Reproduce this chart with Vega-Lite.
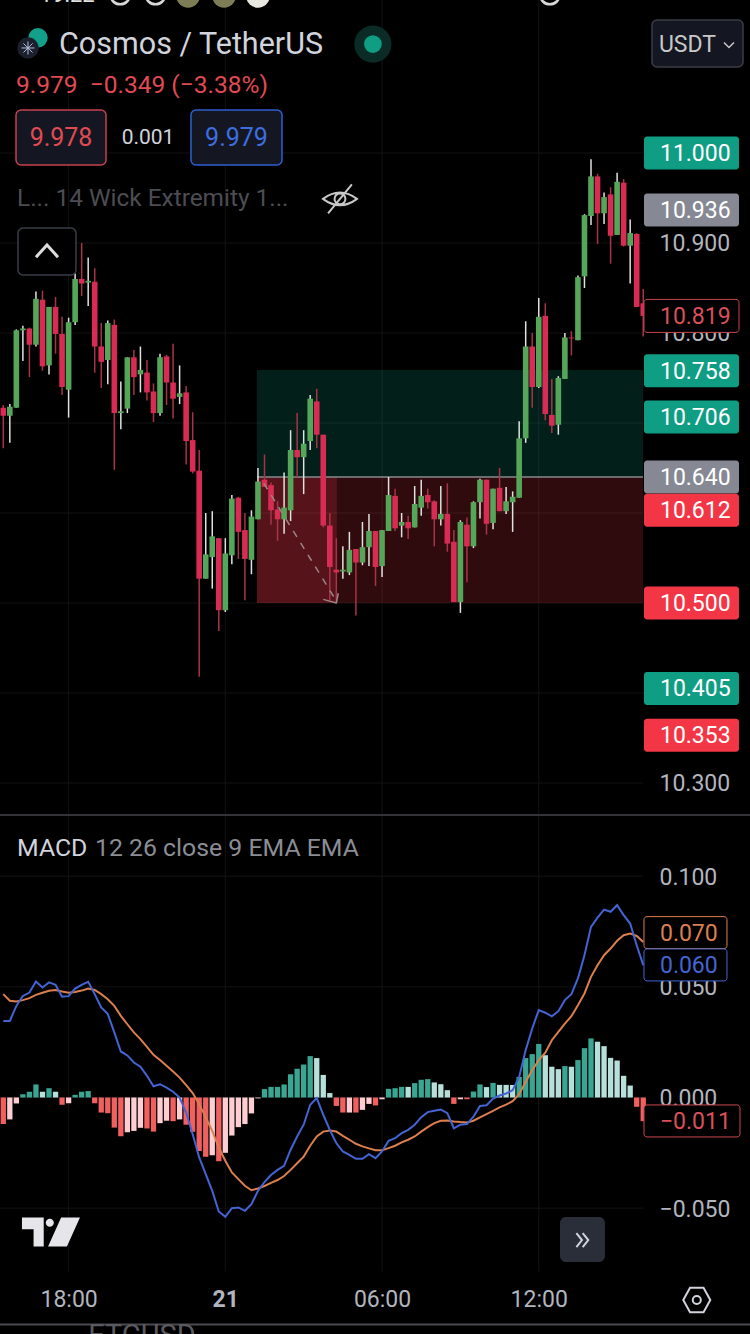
{
  "$schema": "https://vega.github.io/schema/vega-lite/v6.json",
  "width": 750,
  "height": 1334,
  "autosize": {"type": "none"},
  "padding": 0,
  "background": "#000000",
  "config": {
    "view": {"stroke": null},
    "text": {"font": "Roboto"},
    "axis": {"labelFont": "Roboto", "labelFontSize": 23, "labelColor": "#b2b5be", "domain": false, "ticks": false, "grid": false, "title": null, "labelOverlap": false, "labelBound": false, "labelFlush": false}
  },
  "datasets": {
    "candles": [
      {"bar":0,"open":10.717,"high":10.720,"low":10.672,"close":10.708},
      {"bar":1,"open":10.708,"high":10.721,"low":10.678,"close":10.718},
      {"bar":2,"open":10.717,"high":10.804,"low":10.717,"close":10.803},
      {"bar":3,"open":10.803,"high":10.808,"low":10.769,"close":10.805},
      {"bar":4,"open":10.805,"high":10.806,"low":10.751,"close":10.787},
      {"bar":5,"open":10.787,"high":10.846,"low":10.785,"close":10.838},
      {"bar":6,"open":10.837,"high":10.847,"low":10.758,"close":10.763},
      {"bar":7,"open":10.764,"high":10.829,"low":10.754,"close":10.829},
      {"bar":8,"open":10.829,"high":10.840,"low":10.777,"close":10.799},
      {"bar":9,"open":10.799,"high":10.818,"low":10.731,"close":10.740},
      {"bar":10,"open":10.737,"high":10.817,"low":10.706,"close":10.812},
      {"bar":11,"open":10.812,"high":10.866,"low":10.809,"close":10.860},
      {"bar":12,"open":10.860,"high":10.900,"low":10.841,"close":10.855},
      {"bar":13,"open":10.856,"high":10.884,"low":10.830,"close":10.858},
      {"bar":14,"open":10.857,"high":10.872,"low":10.756,"close":10.785},
      {"bar":15,"open":10.785,"high":10.811,"low":10.739,"close":10.768},
      {"bar":16,"open":10.770,"high":10.814,"low":10.743,"close":10.811},
      {"bar":17,"open":10.809,"high":10.815,"low":10.648,"close":10.711},
      {"bar":18,"open":10.711,"high":10.746,"low":10.693,"close":10.713},
      {"bar":19,"open":10.716,"high":10.773,"low":10.711,"close":10.773},
      {"bar":20,"open":10.773,"high":10.781,"low":10.731,"close":10.751},
      {"bar":21,"open":10.754,"high":10.785,"low":10.734,"close":10.759},
      {"bar":22,"open":10.756,"high":10.770,"low":10.725,"close":10.734},
      {"bar":23,"open":10.735,"high":10.744,"low":10.701,"close":10.711},
      {"bar":24,"open":10.711,"high":10.777,"low":10.708,"close":10.773},
      {"bar":25,"open":10.774,"high":10.776,"low":10.720,"close":10.745},
      {"bar":26,"open":10.745,"high":10.788,"low":10.705,"close":10.727},
      {"bar":27,"open":10.729,"high":10.764,"low":10.721,"close":10.733},
      {"bar":28,"open":10.734,"high":10.741,"low":10.654,"close":10.680},
      {"bar":29,"open":10.681,"high":10.712,"low":10.644,"close":10.646},
      {"bar":30,"open":10.647,"high":10.670,"low":10.418,"close":10.527},
      {"bar":31,"open":10.527,"high":10.600,"low":10.527,"close":10.554},
      {"bar":32,"open":10.551,"high":10.602,"low":10.516,"close":10.574},
      {"bar":33,"open":10.572,"high":10.572,"low":10.469,"close":10.492},
      {"bar":34,"open":10.492,"high":10.572,"low":10.490,"close":10.555},
      {"bar":35,"open":10.553,"high":10.620,"low":10.543,"close":10.616},
      {"bar":36,"open":10.617,"high":10.618,"low":10.549,"close":10.579},
      {"bar":37,"open":10.581,"high":10.600,"low":10.503,"close":10.549},
      {"bar":38,"open":10.548,"high":10.603,"low":10.532,"close":10.596},
      {"bar":39,"open":10.593,"high":10.650,"low":10.593,"close":10.635},
      {"bar":40,"open":10.637,"high":10.665,"low":10.629,"close":10.629},
      {"bar":41,"open":10.631,"high":10.634,"low":10.587,"close":10.603},
      {"bar":42,"open":10.604,"high":10.613,"low":10.569,"close":10.593},
      {"bar":43,"open":10.593,"high":10.645,"low":10.577,"close":10.606},
      {"bar":44,"open":10.603,"high":10.692,"low":10.591,"close":10.670},
      {"bar":45,"open":10.670,"high":10.711,"low":10.640,"close":10.662},
      {"bar":46,"open":10.662,"high":10.692,"low":10.621,"close":10.677},
      {"bar":47,"open":10.680,"high":10.731,"low":10.670,"close":10.727},
      {"bar":48,"open":10.724,"high":10.738,"low":10.672,"close":10.687},
      {"bar":49,"open":10.687,"high":10.687,"low":10.584,"close":10.586},
      {"bar":50,"open":10.586,"high":10.600,"low":10.503,"close":10.540},
      {"bar":51,"open":10.537,"high":10.572,"low":10.499,"close":10.534},
      {"bar":52,"open":10.535,"high":10.563,"low":10.527,"close":10.537},
      {"bar":53,"open":10.534,"high":10.579,"low":10.531,"close":10.559},
      {"bar":54,"open":10.560,"high":10.560,"low":10.486,"close":10.545},
      {"bar":55,"open":10.545,"high":10.590,"low":10.542,"close":10.562},
      {"bar":56,"open":10.562,"high":10.599,"low":10.541,"close":10.580},
      {"bar":57,"open":10.580,"high":10.580,"low":10.519,"close":10.540},
      {"bar":58,"open":10.541,"high":10.581,"low":10.529,"close":10.581},
      {"bar":59,"open":10.580,"high":10.640,"low":10.580,"close":10.620},
      {"bar":60,"open":10.619,"high":10.627,"low":10.580,"close":10.583},
      {"bar":61,"open":10.586,"high":10.600,"low":10.573,"close":10.590},
      {"bar":62,"open":10.590,"high":10.597,"low":10.571,"close":10.583},
      {"bar":63,"open":10.584,"high":10.630,"low":10.584,"close":10.610},
      {"bar":64,"open":10.606,"high":10.637,"low":10.597,"close":10.619},
      {"bar":65,"open":10.620,"high":10.627,"low":10.605,"close":10.612},
      {"bar":66,"open":10.613,"high":10.614,"low":10.563,"close":10.593},
      {"bar":67,"open":10.593,"high":10.630,"low":10.586,"close":10.599},
      {"bar":68,"open":10.599,"high":10.633,"low":10.557,"close":10.566},
      {"bar":69,"open":10.568,"high":10.581,"low":10.501,"close":10.501},
      {"bar":70,"open":10.501,"high":10.592,"low":10.489,"close":10.590},
      {"bar":71,"open":10.587,"high":10.595,"low":10.523,"close":10.563},
      {"bar":72,"open":10.563,"high":10.613,"low":10.561,"close":10.612},
      {"bar":73,"open":10.612,"high":10.638,"low":10.594,"close":10.637},
      {"bar":74,"open":10.637,"high":10.637,"low":10.576,"close":10.588},
      {"bar":75,"open":10.589,"high":10.627,"low":10.582,"close":10.627},
      {"bar":76,"open":10.628,"high":10.650,"low":10.602,"close":10.602},
      {"bar":77,"open":10.602,"high":10.629,"low":10.599,"close":10.613},
      {"bar":78,"open":10.612,"high":10.624,"low":10.579,"close":10.618},
      {"bar":79,"open":10.617,"high":10.702,"low":10.617,"close":10.683},
      {"bar":80,"open":10.683,"high":10.813,"low":10.678,"close":10.785},
      {"bar":81,"open":10.785,"high":10.800,"low":10.717,"close":10.740},
      {"bar":82,"open":10.740,"high":10.839,"low":10.739,"close":10.818},
      {"bar":83,"open":10.819,"high":10.833,"low":10.703,"close":10.710},
      {"bar":84,"open":10.709,"high":10.749,"low":10.689,"close":10.697},
      {"bar":85,"open":10.698,"high":10.752,"low":10.687,"close":10.750},
      {"bar":86,"open":10.749,"high":10.800,"low":10.749,"close":10.795},
      {"bar":87,"open":10.795,"high":10.802,"low":10.775,"close":10.794},
      {"bar":88,"open":10.792,"high":10.864,"low":10.792,"close":10.862},
      {"bar":89,"open":10.863,"high":10.932,"low":10.850,"close":10.931},
      {"bar":90,"open":10.930,"high":10.993,"low":10.920,"close":10.974},
      {"bar":91,"open":10.974,"high":10.977,"low":10.899,"close":10.933},
      {"bar":92,"open":10.933,"high":10.956,"low":10.921,"close":10.951},
      {"bar":93,"open":10.954,"high":10.962,"low":10.877,"close":10.908},
      {"bar":94,"open":10.909,"high":10.978,"low":10.909,"close":10.968},
      {"bar":95,"open":10.967,"high":10.971,"low":10.896,"close":10.897},
      {"bar":96,"open":10.897,"high":10.926,"low":10.855,"close":10.911},
      {"bar":97,"open":10.910,"high":10.911,"low":10.829,"close":10.829},
      {"bar":98,"open":10.833,"high":10.849,"low":10.796,"close":10.819}
    ],
    "macd": [
      {"bar":0,"hist":-0.0120,"state":"fall_low","macd":0.0346,"signal":0.0467},
      {"bar":1,"hist":-0.0099,"state":"rise_low","macd":0.0346,"signal":0.0437},
      {"bar":2,"hist":-0.0027,"state":"rise_low","macd":0.0414,"signal":0.0434},
      {"bar":3,"hist":0.0015,"state":"rise_high","macd":0.0459,"signal":0.0440},
      {"bar":4,"hist":0.0026,"state":"rise_high","macd":0.0474,"signal":0.0449},
      {"bar":5,"hist":0.0059,"state":"rise_high","macd":0.0524,"signal":0.0464},
      {"bar":6,"hist":0.0026,"state":"fall_high","macd":0.0497,"signal":0.0473},
      {"bar":7,"hist":0.0042,"state":"rise_high","macd":0.0520,"signal":0.0482},
      {"bar":8,"hist":0.0026,"state":"fall_high","macd":0.0509,"signal":0.0486},
      {"bar":9,"hist":-0.0033,"state":"fall_low","macd":0.0455,"signal":0.0479},
      {"bar":10,"hist":-0.0026,"state":"rise_low","macd":0.0458,"signal":0.0473},
      {"bar":11,"hist":0.0012,"state":"rise_high","macd":0.0492,"signal":0.0477},
      {"bar":12,"hist":0.0026,"state":"rise_high","macd":0.0509,"signal":0.0483},
      {"bar":13,"hist":0.0029,"state":"rise_high","macd":0.0523,"signal":0.0492},
      {"bar":14,"hist":-0.0026,"state":"fall_low","macd":0.0467,"signal":0.0486},
      {"bar":15,"hist":-0.0068,"state":"fall_low","macd":0.0407,"signal":0.0467},
      {"bar":16,"hist":-0.0071,"state":"fall_low","macd":0.0377,"signal":0.0444},
      {"bar":17,"hist":-0.0136,"state":"fall_low","macd":0.0294,"signal":0.0414},
      {"bar":18,"hist":-0.0175,"state":"fall_low","macd":0.0208,"signal":0.0369},
      {"bar":19,"hist":-0.0157,"state":"rise_low","macd":0.0190,"signal":0.0331},
      {"bar":20,"hist":-0.0151,"state":"rise_low","macd":0.0158,"signal":0.0294},
      {"bar":21,"hist":-0.0137,"state":"rise_low","macd":0.0139,"signal":0.0264},
      {"bar":22,"hist":-0.0140,"state":"fall_low","macd":0.0098,"signal":0.0229},
      {"bar":23,"hist":-0.0154,"state":"fall_low","macd":0.0051,"signal":0.0193},
      {"bar":24,"hist":-0.0116,"state":"rise_low","macd":0.0060,"signal":0.0169},
      {"bar":25,"hist":-0.0105,"state":"rise_low","macd":0.0045,"signal":0.0143},
      {"bar":26,"hist":-0.0107,"state":"fall_low","macd":0.0026,"signal":0.0117},
      {"bar":27,"hist":-0.0099,"state":"rise_low","macd":0.0000,"signal":0.0090},
      {"bar":28,"hist":-0.0123,"state":"fall_low","macd":-0.0068,"signal":0.0056},
      {"bar":29,"hist":-0.0155,"state":"fall_low","macd":-0.0166,"signal":0.0020},
      {"bar":30,"hist":-0.0242,"state":"fall_low","macd":-0.0271,"signal":-0.0030},
      {"bar":31,"hist":-0.0268,"state":"fall_low","macd":-0.0346,"signal":-0.0090},
      {"bar":32,"hist":-0.0261,"state":"rise_low","macd":-0.0422,"signal":-0.0151},
      {"bar":33,"hist":-0.0288,"state":"fall_low","macd":-0.0515,"signal":-0.0226},
      {"bar":34,"hist":-0.0250,"state":"rise_low","macd":-0.0539,"signal":-0.0286},
      {"bar":35,"hist":-0.0172,"state":"rise_low","macd":-0.0500,"signal":-0.0339},
      {"bar":36,"hist":-0.0134,"state":"rise_low","macd":-0.0497,"signal":-0.0369},
      {"bar":37,"hist":-0.0120,"state":"rise_low","macd":-0.0512,"signal":-0.0399},
      {"bar":38,"hist":-0.0072,"state":"rise_low","macd":-0.0482,"signal":-0.0419},
      {"bar":39,"hist":-0.0004,"state":"rise_low","macd":-0.0422,"signal":-0.0411},
      {"bar":40,"hist":0.0038,"state":"rise_high","macd":-0.0382,"signal":-0.0400},
      {"bar":41,"hist":0.0048,"state":"rise_high","macd":-0.0350,"signal":-0.0386},
      {"bar":42,"hist":0.0048,"state":"rise_high","macd":-0.0327,"signal":-0.0373},
      {"bar":43,"hist":0.0059,"state":"rise_high","macd":-0.0309,"signal":-0.0355},
      {"bar":44,"hist":0.0105,"state":"rise_high","macd":-0.0236,"signal":-0.0327},
      {"bar":45,"hist":0.0130,"state":"rise_high","macd":-0.0176,"signal":-0.0297},
      {"bar":46,"hist":0.0149,"state":"rise_high","macd":-0.0123,"signal":-0.0267},
      {"bar":47,"hist":0.0187,"state":"rise_high","macd":-0.0033,"signal":-0.0218},
      {"bar":48,"hist":0.0178,"state":"fall_high","macd":-0.0003,"signal":-0.0176},
      {"bar":49,"hist":0.0102,"state":"fall_high","macd":-0.0078,"signal":-0.0154},
      {"bar":50,"hist":0.0020,"state":"fall_high","macd":-0.0146,"signal":-0.0149},
      {"bar":51,"hist":-0.0038,"state":"fall_low","macd":-0.0206,"signal":-0.0154},
      {"bar":52,"hist":-0.0068,"state":"fall_low","macd":-0.0244,"signal":-0.0173},
      {"bar":53,"hist":-0.0068,"state":"rise_low","macd":-0.0259,"signal":-0.0191},
      {"bar":54,"hist":-0.0068,"state":"fall_low","macd":-0.0277,"signal":-0.0209},
      {"bar":55,"hist":-0.0056,"state":"rise_low","macd":-0.0277,"signal":-0.0221},
      {"bar":56,"hist":-0.0029,"state":"rise_low","macd":-0.0256,"signal":-0.0230},
      {"bar":57,"hist":-0.0036,"state":"fall_low","macd":-0.0274,"signal":-0.0238},
      {"bar":58,"hist":-0.0008,"state":"rise_low","macd":-0.0244,"signal":-0.0238},
      {"bar":59,"hist":0.0039,"state":"rise_high","macd":-0.0196,"signal":-0.0229},
      {"bar":60,"hist":0.0042,"state":"rise_high","macd":-0.0184,"signal":-0.0218},
      {"bar":61,"hist":0.0048,"state":"rise_high","macd":-0.0161,"signal":-0.0203},
      {"bar":62,"hist":0.0048,"state":"fall_high","macd":-0.0146,"signal":-0.0191},
      {"bar":63,"hist":0.0065,"state":"rise_high","macd":-0.0123,"signal":-0.0176},
      {"bar":64,"hist":0.0080,"state":"rise_high","macd":-0.0089,"signal":-0.0154},
      {"bar":65,"hist":0.0083,"state":"rise_high","macd":-0.0066,"signal":-0.0134},
      {"bar":66,"hist":0.0068,"state":"fall_high","macd":-0.0060,"signal":-0.0116},
      {"bar":67,"hist":0.0060,"state":"fall_high","macd":-0.0054,"signal":-0.0105},
      {"bar":68,"hist":0.0033,"state":"fall_high","macd":-0.0071,"signal":-0.0104},
      {"bar":69,"hist":-0.0029,"state":"fall_low","macd":-0.0139,"signal":-0.0108},
      {"bar":70,"hist":-0.0008,"state":"rise_low","macd":-0.0123,"signal":-0.0111},
      {"bar":71,"hist":-0.0008,"state":"fall_low","macd":-0.0120,"signal":-0.0113},
      {"bar":72,"hist":0.0027,"state":"rise_high","macd":-0.0087,"signal":-0.0105},
      {"bar":73,"hist":0.0059,"state":"rise_high","macd":-0.0038,"signal":-0.0090},
      {"bar":74,"hist":0.0047,"state":"fall_high","macd":-0.0035,"signal":-0.0075},
      {"bar":75,"hist":0.0066,"state":"rise_high","macd":-0.0005,"signal":-0.0060},
      {"bar":76,"hist":0.0057,"state":"fall_high","macd":0.0009,"signal":-0.0045},
      {"bar":77,"hist":0.0057,"state":"fall_high","macd":0.0018,"signal":-0.0032},
      {"bar":78,"hist":0.0057,"state":"fall_high","macd":0.0033,"signal":-0.0017},
      {"bar":79,"hist":0.0093,"state":"rise_high","macd":0.0093,"signal":0.0015},
      {"bar":80,"hist":0.0178,"state":"rise_high","macd":0.0214,"signal":0.0071},
      {"bar":81,"hist":0.0196,"state":"rise_high","macd":0.0312,"signal":0.0123},
      {"bar":82,"hist":0.0242,"state":"rise_high","macd":0.0395,"signal":0.0169},
      {"bar":83,"hist":0.0191,"state":"fall_high","macd":0.0383,"signal":0.0202},
      {"bar":84,"hist":0.0139,"state":"fall_high","macd":0.0367,"signal":0.0259},
      {"bar":85,"hist":0.0128,"state":"fall_high","macd":0.0390,"signal":0.0297},
      {"bar":86,"hist":0.0142,"state":"rise_high","macd":0.0440,"signal":0.0334},
      {"bar":87,"hist":0.0139,"state":"fall_high","macd":0.0467,"signal":0.0367},
      {"bar":88,"hist":0.0169,"state":"rise_high","macd":0.0538,"signal":0.0417},
      {"bar":89,"hist":0.0223,"state":"rise_high","macd":0.0643,"signal":0.0470},
      {"bar":90,"hist":0.0267,"state":"rise_high","macd":0.0771,"signal":0.0545},
      {"bar":91,"hist":0.0252,"state":"fall_high","macd":0.0813,"signal":0.0598},
      {"bar":92,"hist":0.0232,"state":"fall_high","macd":0.0849,"signal":0.0643},
      {"bar":93,"hist":0.0179,"state":"fall_high","macd":0.0839,"signal":0.0673},
      {"bar":94,"hist":0.0167,"state":"fall_high","macd":0.0869,"signal":0.0708},
      {"bar":95,"hist":0.0098,"state":"fall_high","macd":0.0824,"signal":0.0733},
      {"bar":96,"hist":0.0054,"state":"fall_high","macd":0.0786,"signal":0.0741},
      {"bar":97,"hist":-0.0042,"state":"fall_low","macd":0.0688,"signal":0.0730},
      {"bar":98,"hist":-0.0107,"state":"fall_low","macd":0.0598,"signal":0.0703}
    ]
  },
  "encoding": {
    "x": {
      "field": "bar",
      "type": "quantitative",
      "scale": {"domain": [-0.505, 114.35], "nice": false, "zero": false, "padding": 0},
      "axis": {
        "orient": "bottom",
        "offset": -35,
        "values": [10, 34, 58, 82],
        "labelPadding": 0,
        "labelBaseline": "middle",
        "labelAngle": 0,
        "labelExpr": "datum.value == 10 ? '18:00' : datum.value == 34 ? '21' : datum.value == 58 ? '06:00' : '12:00'",
        "labelFontWeight": {"condition": {"test": "datum.value == 34", "value": "bold"}, "value": "normal"}
      }
    }
  },
  "resolve": {"scale": {"y": "independent"}, "axis": {"y": "independent"}},
  "layer": [
    {
      "encoding": {
        "y": {
          "field": "price",
          "type": "quantitative",
          "scale": {"domain": [10.26444, 11.17], "range": [815, 0], "nice": false, "zero": false},
          "axis": {"orient": "right", "offset": -90, "values": [10.3, 10.8, 10.9], "format": ".3f", "labelPadding": -1, "labelOffset": 1, "labelAlign": "left", "labelBaseline": "middle"}
        }
      },
      "layer": [
        {
          "data": {"values": [
            {"bar":10,"price":11.17,"price2":10.26444},{"bar":34,"price":11.17,"price2":10.26444},{"bar":58,"price":11.17,"price2":10.26444},{"bar":82,"price":11.17,"price2":10.26444}
          ]},
          "mark": {"type": "rule", "color": "#131313", "strokeWidth": 1},
          "encoding": {"y2": {"field": "price2"}}
        },
        {
          "data": {"values": [
            {"bar":-0.505,"bar2":98,"price":11.0},{"bar":-0.505,"bar2":98,"price":10.9},{"bar":-0.505,"bar2":98,"price":10.8},{"bar":-0.505,"bar2":98,"price":10.7},{"bar":-0.505,"bar2":98,"price":10.6},{"bar":-0.505,"bar2":98,"price":10.5},{"bar":-0.505,"bar2":98,"price":10.4},{"bar":-0.505,"bar2":98,"price":10.3}
          ]},
          "mark": {"type": "rule", "color": "#131313", "strokeWidth": 1},
          "encoding": {"x2": {"field": "bar2"}}
        },
        {
          "data": {"values": [
            {"bar":38.85,"bar2":97.97,"price":10.759,"price2":10.64,"zone":"target"},
            {"bar":38.85,"bar2":97.97,"price":10.64,"price2":10.5,"zone":"stop"},
            {"bar":38.85,"bar2":51.1,"price":10.64,"price2":10.5,"zone":"drawdown"}
          ]},
          "mark": {"type": "rect", "opacity": 0.2},
          "encoding": {
            "x2": {"field": "bar2"},
            "y2": {"field": "price2"},
            "fill": {"condition": {"test": "datum.zone == 'target'", "value": "#089981"}, "value": "#f23645"}
          }
        },
        {
          "data": {"values": [{"bar":38.85,"bar2":97.97,"price":10.64}]},
          "mark": {"type": "rule", "color": "#8a8a8e", "strokeWidth": 1.5},
          "encoding": {"x2": {"field": "bar2"}}
        },
        {
          "data": {"name": "candles"},
          "mark": {"type": "rule", "strokeWidth": 1.5},
          "encoding": {
            "y": {"field": "high", "type": "quantitative", "scale": {"domain": [10.26444, 11.17], "range": [815, 0], "nice": false, "zero": false},
              "axis": {"orient": "right", "offset": -90, "values": [10.3, 10.8, 10.9], "format": ".3f", "labelPadding": -1, "labelOffset": 1, "labelAlign": "left", "labelBaseline": "middle"}},
            "y2": {"field": "low"},
            "color": {"condition": {"test": "datum.close >= datum.open", "value": "#dfe3df"}, "value": "#a83448"}
          }
        },
        {
          "data": {"name": "candles"},
          "mark": {"type": "bar", "width": 5.6},
          "encoding": {
            "y": {"field": "open", "type": "quantitative", "scale": {"domain": [10.26444, 11.17], "range": [815, 0], "nice": false, "zero": false},
              "axis": {"orient": "right", "offset": -90, "values": [10.3, 10.8, 10.9], "format": ".3f", "labelPadding": -1, "labelOffset": 1, "labelAlign": "left", "labelBaseline": "middle"}},
            "y2": {"field": "close"},
            "color": {"condition": {"test": "datum.close >= datum.open", "value": "#56a65a"}, "value": "#d92c55"}
          }
        },
        {
          "data": {"values": [{"bar":39.9,"price":10.633},{"bar":50.95,"price":10.503}]},
          "mark": {"type": "line", "color": "#9a8585", "strokeWidth": 1.5, "strokeDash": [7, 7]}
        },
        {
          "data": {"values": [{"bar":49,"price":10.504,"bar2":51,"price2":10.5},{"bar":51.3,"price":10.511,"bar2":51,"price2":10.5}]},
          "mark": {"type": "rule", "color": "#9a8585", "strokeWidth": 1.5},
          "encoding": {"x2": {"field": "bar2"}, "y2": {"field": "price2"}}
        },
        {
          "data": {"values": [
            {"bar":105.39,"price":11.0,"tag":"buy"},
            {"bar":105.39,"price":10.9367,"tag":"mark"},
            {"bar":105.39,"price":10.819,"tag":"last"},
            {"bar":105.39,"price":10.758,"tag":"buy"},
            {"bar":105.39,"price":10.7067,"tag":"buy"},
            {"bar":105.39,"price":10.64,"tag":"mark"},
            {"bar":105.39,"price":10.603,"tag":"sell"},
            {"bar":105.39,"price":10.5,"tag":"sell"},
            {"bar":105.39,"price":10.405,"tag":"buy"},
            {"bar":105.39,"price":10.353,"tag":"sell"}
          ]},
          "mark": {"type": "rect", "width": 95, "height": 33, "cornerRadius": 3},
          "encoding": {
            "fill": {"condition": [
              {"test": "datum.tag == 'buy'", "value": "#0f9d84"},
              {"test": "datum.tag == 'mark'", "value": "#868993"},
              {"test": "datum.tag == 'sell'", "value": "#f23645"}
            ], "value": "#000000"},
            "stroke": {"condition": {"test": "datum.tag == 'last'", "value": "#c9474f"}, "value": null}
          }
        },
        {
          "data": {"values": [
            {"bar":100.56,"label":"11.000","price":11.0,"tag":"buy"},
            {"bar":100.56,"label":"10.936","price":10.9367,"tag":"mark"},
            {"bar":100.56,"label":"10.819","price":10.819,"tag":"last"},
            {"bar":100.56,"label":"10.758","price":10.758,"tag":"buy"},
            {"bar":100.56,"label":"10.706","price":10.7067,"tag":"buy"},
            {"bar":100.56,"label":"10.640","price":10.64,"tag":"mark"},
            {"bar":100.56,"label":"10.612","price":10.603,"tag":"sell"},
            {"bar":100.56,"label":"10.500","price":10.5,"tag":"sell"},
            {"bar":100.56,"label":"10.405","price":10.405,"tag":"buy"},
            {"bar":100.56,"label":"10.353","price":10.353,"tag":"sell"}
          ]},
          "mark": {"type": "text", "align": "left", "baseline": "middle", "fontSize": 23, "dy": 1},
          "encoding": {
            "text": {"field": "label"},
            "color": {"condition": {"test": "datum.tag == 'last'", "value": "#d9505a"}, "value": "#ffffff"}
          }
        },
        {
          "data": {"values": [
            {"bar":1.95,"bar2":15.73,"price":11.0478,"price2":10.9867,"side":"bid"},
            {"bar":28.74,"bar2":42.68,"price":11.0478,"price2":10.9867,"side":"ask"},
            {"bar":99.34,"bar2":113.28,"price":11.1478,"price2":11.0956,"side":"unit"},
            {"bar":2.25,"bar2":11.13,"price":10.9167,"price2":10.8644,"side":"collapse"}
          ]},
          "mark": {"type": "rect", "cornerRadius": 5, "strokeWidth": 1.5},
          "encoding": {
            "x2": {"field": "bar2"},
            "y2": {"field": "price2"},
            "fill": {"condition": {"test": "datum.side == 'collapse'", "value": "#000000"}, "value": "#141722"},
            "stroke": {"condition": [
              {"test": "datum.side == 'bid'", "value": "#c5414c"},
              {"test": "datum.side == 'ask'", "value": "#2f5fd0"}
            ], "value": "#3a3d45"}
          }
        },
        {
          "data": {"values": [{"bar":5.31,"price":11.128}]},
          "mark": {"type": "point", "shape": "circle", "filled": true, "size": 380, "color": "#12a08a", "opacity": 1}
        },
        {
          "data": {"values": [{"bar":3.78,"price":11.1167}]},
          "mark": {"type": "point", "shape": "circle", "filled": true, "size": 452, "color": "#1c1f2c", "opacity": 1}
        },
        {
          "data": {"values": [{"bar":3.78,"price":11.1167}]},
          "mark": {"type": "point", "shape": "M-1,0 L1,0 M0,-1 L0,1 M-0.7,-0.7 L0.7,0.7 M-0.7,0.7 L0.7,-0.7", "filled": false, "size": 169, "color": "#b5c0e0", "strokeWidth": 1, "opacity": 1}
        },
        {
          "data": {"values": [{"bar":56.6,"price":11.121}]},
          "mark": {"type": "point", "shape": "circle", "filled": true, "size": 1385, "color": "#0a2b26", "opacity": 1}
        },
        {
          "data": {"values": [{"bar":56.6,"price":11.121}]},
          "mark": {"type": "point", "shape": "circle", "filled": true, "size": 314, "color": "#0f9d84", "opacity": 1}
        },
        {
          "data": {"values": [{"bar":51.56,"price":10.949}]},
          "mark": {"type": "point", "shape": "M-1,0 Q0,-0.75 1,0 Q0,0.75 -1,0 Z M0.32,0 A0.32,0.32 0 1 1 -0.32,0 A0.32,0.32 0 1 1 0.32,0 Z M-0.7,0.85 L0.7,-0.85", "filled": false, "size": 1156, "color": "#c8c8c8", "strokeWidth": 2, "opacity": 1}
        },
        {
          "data": {"values": [{"bar":6.69,"price":10.891}]},
          "mark": {"type": "point", "shape": "M-1,0.55 L0,-0.55 L1,0.55", "filled": false, "size": 484, "color": "#dddddd", "strokeWidth": 3, "opacity": 1}
        },
        {
          "data": {"values": [{"bar":111.13,"price":11.12}]},
          "mark": {"type": "point", "shape": "M-1,-0.5 L0,0.5 L1,-0.5", "filled": false, "size": 100, "color": "#c8c8c8", "strokeWidth": 1.5, "opacity": 1}
        },
        {
          "data": {"values": [{"bar":8.53,"price":11.121,"label":"Cosmos / TetherUS"}]},
          "mark": {"type": "text", "align": "left", "baseline": "middle", "fontSize": 30.5, "color": "#d1d4dc", "dy": 1},
          "encoding": {"text": {"field": "label"}}
        },
        {
          "data": {"values": [{"bar":1.95,"price":11.0756,"label":"9.979\u00a0\u00a0−0.349 (−3.38%)"}]},
          "mark": {"type": "text", "align": "left", "baseline": "middle", "fontSize": 24.5, "color": "#e04a52", "dy": 1},
          "encoding": {"text": {"field": "label"}}
        },
        {
          "data": {"values": [{"bar":8.84,"price":11.0178,"label":"9.978","side":"bid"},{"bar":22.16,"price":11.0178,"label":"0.001","side":"gap"},{"bar":35.71,"price":11.0178,"label":"9.979","side":"ask"}]},
          "mark": {"type": "text", "align": "center", "baseline": "middle", "dy": 1},
          "encoding": {
            "text": {"field": "label"},
            "size": {"condition": {"test": "datum.side == 'gap'", "value": 21}, "value": 25},
            "color": {"condition": [
              {"test": "datum.side == 'bid'", "value": "#e04a52"},
              {"test": "datum.side == 'ask'", "value": "#3d6ee0"}
            ], "value": "#d1d4dc"}
          }
        },
        {
          "data": {"values": [{"bar":2.1,"price":10.95,"label":"L... 14 Wick Extremity 1..."}]},
          "mark": {"type": "text", "align": "left", "baseline": "middle", "fontSize": 24.4, "color": "#4c4d52", "dy": 1},
          "encoding": {"text": {"field": "label"}}
        },
        {
          "data": {"values": [{"bar":100.4,"price":11.121,"label":"USDT"}]},
          "mark": {"type": "text", "align": "left", "baseline": "middle", "fontSize": 23, "color": "#c8c8c8", "dy": 1},
          "encoding": {"text": {"field": "label"}}
        },
        {
          "data": {"values": [{"bar":5.6,"price":11.1756,"label":"19:22"}]},
          "mark": {"type": "text", "align": "left", "baseline": "middle", "fontSize": 22, "color": "#e0e0e0"},
          "encoding": {"text": {"field": "label"}}
        },
        {
          "data": {"values": [{"bar":28.3,"price":11.1745,"icon":"olive"},{"bar":33.8,"price":11.1745,"icon":"olive"},{"bar":39,"price":11.1745,"icon":"white"}]},
          "mark": {"type": "point", "shape": "circle", "filled": true, "size": 560, "opacity": 1},
          "encoding": {"color": {"condition": {"test": "datum.icon == 'olive'", "value": "#7d7d55"}, "value": "#e8e8e0"}}
        },
        {
          "data": {"values": [{"bar":17.9,"price":11.176},{"bar":23.3,"price":11.176},{"bar":83.7,"price":11.176}]},
          "mark": {"type": "point", "shape": "circle", "filled": false, "size": 380, "color": "#d8d8d8", "strokeWidth": 2.5, "opacity": 1}
        }
      ]
    },
    {
      "encoding": {
        "y": {
          "field": "value",
          "type": "quantitative",
          "scale": {"domain": [-0.10687, 0.12765], "range": [1334, 815], "nice": false, "zero": false},
          "axis": {"orient": "right", "offset": -90, "values": [-0.05, 0, 0.05, 0.1], "labelExpr": "replace(format(datum.value, '.3f'), '-', '−')", "labelPadding": -1, "labelOffset": 1, "labelAlign": "left", "labelBaseline": "middle"}
        }
      },
      "layer": [
        {
          "data": {"values": [
            {"bar":10,"value":0.12765,"value2":-0.0786},{"bar":34,"value":0.12765,"value2":-0.0786},{"bar":58,"value":0.12765,"value2":-0.0786},{"bar":82,"value":0.12765,"value2":-0.0786}
          ]},
          "mark": {"type": "rule", "color": "#131313", "strokeWidth": 1},
          "encoding": {"y2": {"field": "value2"}}
        },
        {
          "data": {"values": [
            {"bar":-0.505,"bar2":98,"value":0.1},{"bar":-0.505,"bar2":98,"value":0.05},{"bar":-0.505,"bar2":98,"value":0},{"bar":-0.505,"bar2":98,"value":-0.05}
          ]},
          "mark": {"type": "rule", "color": "#131313", "strokeWidth": 1},
          "encoding": {"x2": {"field": "bar2"}}
        },
        {
          "data": {"values": [{"bar":-0.505,"bar2":114.35,"value":0.12765,"pane":"top"},{"bar":-0.505,"bar2":114.35,"value":-0.1026,"pane":"bottom"}]},
          "mark": {"type": "rule", "strokeWidth": 2},
          "encoding": {
            "x2": {"field": "bar2"},
            "color": {"condition": {"test": "datum.pane == 'top'", "value": "#333338"}, "value": "#4a4a50"}
          }
        },
        {
          "data": {"name": "macd"},
          "mark": {"type": "bar", "width": 5.3},
          "encoding": {
            "y": {"field": "hist", "type": "quantitative", "scale": {"domain": [-0.10687, 0.12765], "range": [1334, 815], "nice": false, "zero": false},
              "axis": {"orient": "right", "offset": -90, "values": [-0.05, 0, 0.05, 0.1], "labelExpr": "replace(format(datum.value, '.3f'), '-', '−')", "labelPadding": -1, "labelOffset": 1, "labelAlign": "left", "labelBaseline": "middle"}},
            "y2": {"datum": 0},
            "color": {"condition": [
              {"test": "datum.state == 'rise_high'", "value": "#3aa592"},
              {"test": "datum.state == 'fall_high'", "value": "#b8e0da"},
              {"test": "datum.state == 'fall_low'", "value": "#f0605f"}
            ], "value": "#fdcdd2"}
          }
        },
        {
          "data": {"name": "macd"},
          "mark": {"type": "line", "color": "#dc7f4e", "strokeWidth": 2},
          "encoding": {
            "y": {"field": "signal", "type": "quantitative", "scale": {"domain": [-0.10687, 0.12765], "range": [1334, 815], "nice": false, "zero": false},
              "axis": {"orient": "right", "offset": -90, "values": [-0.05, 0, 0.05, 0.1], "labelExpr": "replace(format(datum.value, '.3f'), '-', '−')", "labelPadding": -1, "labelOffset": 1, "labelAlign": "left", "labelBaseline": "middle"}}
          }
        },
        {
          "data": {"name": "macd"},
          "mark": {"type": "line", "color": "#4464d4", "strokeWidth": 2},
          "encoding": {
            "y": {"field": "macd", "type": "quantitative", "scale": {"domain": [-0.10687, 0.12765], "range": [1334, 815], "nice": false, "zero": false},
              "axis": {"orient": "right", "offset": -90, "values": [-0.05, 0, 0.05, 0.1], "labelExpr": "replace(format(datum.value, '.3f'), '-', '−')", "labelPadding": -1, "labelOffset": 1, "labelAlign": "left", "labelBaseline": "middle"}}
          }
        },
        {
          "data": {"values": [{"bar":104.47,"value":0.0745,"line":"signal"},{"bar":104.47,"value":0.0599,"line":"macd"}]},
          "mark": {"type": "rect", "width": 83, "height": 32, "cornerRadius": 3, "fill": "#000000"},
          "encoding": {
            "stroke": {"condition": {"test": "datum.line == 'signal'", "value": "#dc7f4e"}, "value": "#4464d4"}
          }
        },
        {
          "data": {"values": [{"bar":105.47,"value":-0.0106}]},
          "mark": {"type": "rect", "width": 96, "height": 32, "cornerRadius": 3, "fill": "#000000", "stroke": "#c9474f"}
        },
        {
          "data": {"values": [{"bar":100.56,"value":0.0745,"label":"0.070","line":"signal"},{"bar":100.56,"value":0.0599,"label":"0.060","line":"macd"},{"bar":100.56,"value":-0.0106,"label":"−0.011","line":"hist"}]},
          "mark": {"type": "text", "align": "left", "baseline": "middle", "fontSize": 23, "dy": 1},
          "encoding": {
            "text": {"field": "label"},
            "color": {"condition": [
              {"test": "datum.line == 'signal'", "value": "#dc7f4e"},
              {"test": "datum.line == 'macd'", "value": "#4464d4"}
            ], "value": "#d9505a"}
          }
        },
        {
          "data": {"values": [{"bar":2.1,"value":0.1125,"label":"MACD"}]},
          "mark": {"type": "text", "align": "left", "baseline": "middle", "fontSize": 24.8, "color": "#d1d4dc"},
          "encoding": {"text": {"field": "label"}}
        },
        {
          "data": {"values": [{"bar":14.05,"value":0.1125,"label":"12 26 close 9 EMA EMA"}]},
          "mark": {"type": "text", "align": "left", "baseline": "middle", "fontSize": 24.8, "color": "#8b8d94"},
          "encoding": {"text": {"field": "label"}}
        },
        {
          "data": {"values": [{"bar":85.25,"bar2":92.14,"value":-0.054,"value2":-0.0743}]},
          "mark": {"type": "rect", "cornerRadius": 6, "fill": "#2a2e39"},
          "encoding": {"x2": {"field": "bar2"}, "y2": {"field": "value2"}}
        },
        {
          "data": {"values": [{"bar":88.62,"value":-0.0644}]},
          "mark": {"type": "point", "shape": "M-0.8,-1 L0,0 L-0.8,1 M0.1,-1 L0.9,0 L0.1,1", "filled": false, "size": 196, "color": "#d1d4dc", "strokeWidth": 2, "opacity": 1}
        },
        {
          "data": {"values": [{"bar":7.3,"value":-0.0608}]},
          "mark": {"type": "point", "shape": "M-1,-0.5 L-0.25,-0.5 L-0.25,0.5 L-0.6,0.5 L-0.6,-0.1 L-1,-0.1 Z M0.1,-0.32 A0.14,0.14 0 1 1 -0.18,-0.32 A0.14,0.14 0 1 1 0.1,-0.32 Z M0.35,-0.5 L1,-0.5 L0.55,0.5 L-0.1,0.5 Z", "filled": true, "size": 3364, "color": "#e6e6ea", "opacity": 1}
        },
        {
          "data": {"values": [{"bar":106.2,"value":-0.0915}]},
          "mark": {"type": "point", "shape": "M-1,0 L-0.5,-0.9 L0.5,-0.9 L1,0 L0.5,0.9 L-0.5,0.9 Z M0.3,0 A0.3,0.3 0 1 1 -0.3,0 A0.3,0.3 0 1 1 0.3,0 Z", "filled": false, "size": 729, "color": "#d1d4dc", "strokeWidth": 2, "opacity": 1}
        },
        {
          "data": {"values": [{"bar":13,"value":-0.1079,"label":"ETCUSD"}]},
          "mark": {"type": "text", "align": "left", "baseline": "middle", "fontSize": 29, "color": "#5a5a60"},
          "encoding": {"text": {"field": "label"}}
        }
      ]
    }
  ]
}
